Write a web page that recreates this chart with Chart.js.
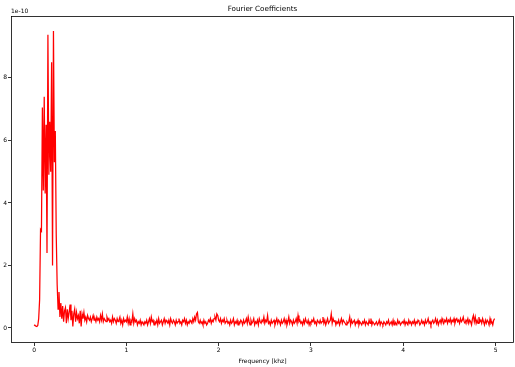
<!DOCTYPE html>
<html>
<head>
<meta charset="utf-8">
<script src="https://cdn.jsdelivr.net/npm/chart.js@4"></script>
<style>
  html, body { margin: 0; padding: 0; background: #fff; }
  #wrap { width: 515px; height: 367px; }
</style>
</head>
<body>
<div id="wrap"><canvas id="c" width="515" height="367"></canvas></div>
<script>
// Spectrum magnitude (units of 1e-10), sampled every 0.01 kHz starting at 0
const sampleStep = 0.01;
const coefficients = [
  0.10,0.08,0.06,0.05,0.08,0.30,0.90,3.15,3.10,7.05,
  4.40,7.40,4.30,6.50,2.40,9.38,4.90,6.60,5.00,8.50,
  2.00,9.50,5.30,6.30,3.00,1.40,0.60,1.15,0.35,0.80,
  0.30,0.70,0.20,0.55,0.65,0.15,0.60,0.30,0.50,0.75,
  0.25,0.55,0.05,0.45,0.60,0.20,0.50,0.30,0.40,0.15,
  0.55,0.05,0.45,0.30,0.50,0.25,0.35,0.20,0.40,0.30,
  0.25,0.35,0.20,0.30,0.40,0.25,0.30,0.20,0.35,0.25,
  0.30,0.20,0.40,0.25,0.45,0.20,0.30,0.25,0.20,0.35,
  0.25,0.30,0.20,0.25,0.15,0.35,0.20,0.30,0.25,0.15,
  0.30,0.20,0.25,0.35,0.15,0.25,0.10,0.30,0.20,0.25,
  0.20,0.35,0.15,0.30,0.10,0.25,0.20,0.45,0.15,0.30,
  0.20,0.25,0.10,0.20,0.15,0.25,0.10,0.20,0.15,0.10,
  0.20,0.15,0.25,0.10,0.20,0.30,0.15,0.35,0.20,0.25,
  0.10,0.20,0.15,0.25,0.10,0.30,0.15,0.20,0.25,0.10,
  0.20,0.30,0.15,0.25,0.20,0.15,0.25,0.10,0.30,0.20,
  0.15,0.25,0.20,0.10,0.25,0.15,0.20,0.30,0.15,0.20,
  0.10,0.25,0.20,0.30,0.15,0.25,0.10,0.20,0.15,0.25,
  0.20,0.15,0.30,0.20,0.35,0.25,0.45,0.50,0.20,0.15,
  0.25,0.15,0.20,0.10,0.25,0.15,0.20,0.10,0.15,0.25,
  0.20,0.30,0.15,0.25,0.20,0.30,0.35,0.25,0.45,0.40,
  0.25,0.20,0.30,0.15,0.25,0.20,0.30,0.15,0.20,0.25,
  0.15,0.20,0.10,0.25,0.15,0.20,0.30,0.10,0.20,0.15,
  0.25,0.10,0.20,0.15,0.25,0.20,0.10,0.25,0.15,0.20,
  0.30,0.15,0.35,0.20,0.10,0.25,0.15,0.20,0.30,0.10,
  0.20,0.15,0.25,0.10,0.30,0.20,0.15,0.25,0.20,0.35,
  0.15,0.25,0.20,0.40,0.15,0.20,0.10,0.25,0.15,0.20,
  0.25,0.10,0.20,0.30,0.15,0.25,0.20,0.10,0.25,0.15,
  0.20,0.30,0.15,0.25,0.10,0.20,0.35,0.15,0.25,0.20,
  0.10,0.25,0.15,0.20,0.30,0.15,0.40,0.20,0.25,0.15,
  0.20,0.10,0.25,0.15,0.30,0.20,0.15,0.25,0.10,0.20,
  0.15,0.25,0.20,0.30,0.15,0.20,0.10,0.25,0.20,0.15,
  0.25,0.15,0.20,0.35,0.15,0.25,0.10,0.20,0.30,0.15,
  0.20,0.25,0.45,0.15,0.30,0.20,0.25,0.10,0.20,0.15,
  0.25,0.10,0.20,0.30,0.15,0.25,0.20,0.15,0.10,0.20,
  0.15,0.20,0.35,0.10,0.25,0.15,0.20,0.25,0.10,0.20,
  0.15,0.25,0.10,0.20,0.15,0.10,0.20,0.15,0.25,0.10,
  0.20,0.15,0.10,0.25,0.15,0.30,0.10,0.20,0.15,0.10,
  0.15,0.20,0.10,0.15,0.25,0.10,0.20,0.15,0.10,0.20,
  0.15,0.10,0.20,0.15,0.25,0.10,0.15,0.20,0.10,0.25,
  0.10,0.20,0.15,0.10,0.25,0.15,0.20,0.10,0.15,0.20,
  0.15,0.25,0.10,0.20,0.15,0.10,0.25,0.15,0.20,0.10,
  0.20,0.15,0.25,0.10,0.20,0.15,0.25,0.20,0.10,0.15,
  0.25,0.15,0.20,0.10,0.25,0.15,0.20,0.30,0.15,0.20,
  0.10,0.20,0.25,0.15,0.20,0.30,0.15,0.25,0.10,0.20,
  0.25,0.15,0.30,0.20,0.15,0.25,0.20,0.30,0.15,0.25,
  0.20,0.30,0.15,0.25,0.20,0.30,0.15,0.25,0.30,0.20,
  0.25,0.15,0.30,0.20,0.25,0.35,0.20,0.15,0.25,0.20,
  0.30,0.15,0.25,0.20,0.10,0.30,0.40,0.20,0.35,0.15,
  0.25,0.15,0.35,0.20,0.25,0.15,0.30,0.20,0.10,0.25,
  0.15,0.25,0.20,0.10,0.30,0.15,0.20,0.10,0.25,0.30
];
const frequencies = coefficients.map((_, i) => +(i * sampleStep).toFixed(2));
const xTicks = [0, 1, 2, 3, 4, 5];
const yTicks = [0, 2, 4, 6, 8];
const titleText = 'Fourier Coefficients';
const xLabel = 'Frequency [khz]';
const offsetText = '1e-10';

const FONT = '"DejaVu Sans", sans-serif';

const framePlugin = {
  id: 'frame',
  afterDraw(chart) {
    const { ctx, chartArea: a } = chart;
    ctx.save();
    ctx.strokeStyle = '#000';
    ctx.lineWidth = 0.8;
    ctx.strokeRect(a.left + 0.5, a.top + 0.5, a.right - a.left - 1, a.bottom - a.top - 1);
    ctx.fillStyle = '#000';
    ctx.font = '7.2px ' + FONT;
    ctx.textAlign = 'center';
    ctx.textBaseline = 'bottom';
    ctx.fillText(titleText, (a.left + a.right) / 2, a.top - 3);
    ctx.font = '6px ' + FONT;
    ctx.textAlign = 'left';
    ctx.fillText(offsetText, a.left, a.top - 2);
    ctx.restore();
  }
};

new Chart(document.getElementById('c'), {
  type: 'line',
  data: {
    datasets: [{
      data: frequencies.map((f, i) => ({ x: f, y: coefficients[i] })),
      borderColor: '#ff0000',
      borderWidth: 1.25,
      pointRadius: 0,
      tension: 0,
      fill: false
    }]
  },
  options: {
    responsive: false,
    animation: false,
    events: [],
    layout: { padding: { top: 16, right: 1, left: 0, bottom: 0 } },
    plugins: { legend: { display: false }, tooltip: { enabled: false }, title: { display: false } },
    scales: {
      x: {
        type: 'linear',
        min: -0.25,
        max: 5.2,
        afterBuildTicks: s => { s.ticks = xTicks.map(v => ({ value: v })); },
        afterFit: s => { s.height = 24; },
        grid: { display: true, drawOnChartArea: false, drawTicks: true, tickLength: 3, color: '#000', lineWidth: 0.8 },
        border: { display: false },
        ticks: { color: '#000', font: { family: FONT, size: 6 }, padding: 1, maxRotation: 0, autoSkip: false },
        title: { display: true, text: xLabel, color: '#000', font: { family: FONT, size: 6 }, padding: { top: 0, bottom: 2 } }
      },
      y: {
        type: 'linear',
        min: -0.48,
        max: 9.98,
        afterBuildTicks: s => { s.ticks = yTicks.map(v => ({ value: v })); },
        afterFit: s => { s.width = 11; },
        grid: { display: true, drawOnChartArea: false, drawTicks: true, tickLength: 3, color: '#000', lineWidth: 0.8 },
        border: { display: false },
        ticks: { color: '#000', font: { family: FONT, size: 6 }, padding: 1, autoSkip: false }
      }
    }
  },
  plugins: [framePlugin]
});
</script>
</body>
</html>
